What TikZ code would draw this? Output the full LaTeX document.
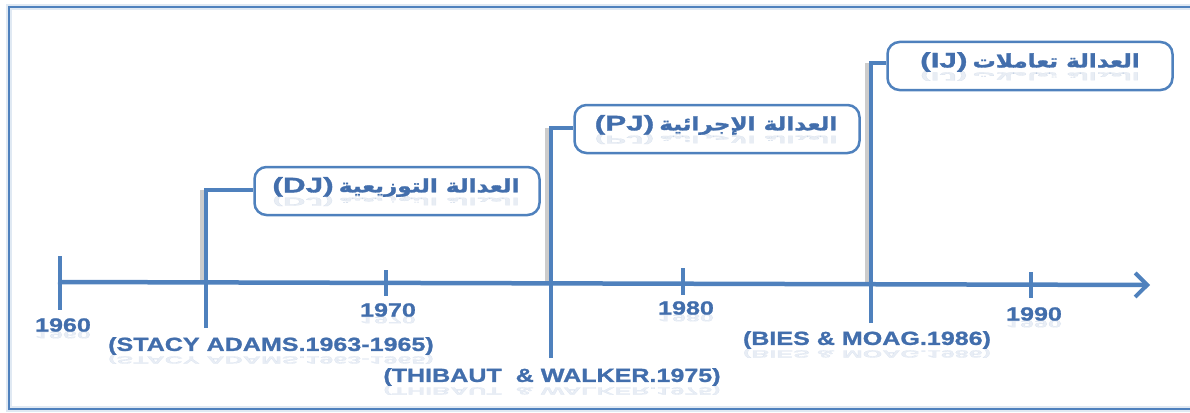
\documentclass[tikz,border=0pt]{standalone}
\usepackage{fontspec}
\setmainfont{Liberation Sans}
\newfontfamily\labelfont[FakeStretch=1.32, BoldFeatures={FakeBold=1.2}]{Liberation Sans}
\newfontfamily\tagfont[FakeStretch=1.5, BoldFeatures={FakeBold=1.5}]{Liberation Sans}
\newfontfamily\arabicfont[Script=Arabic, FakeStretch=1.25, BoldFeatures={FakeBold=1.5}]{DejaVu Sans}
\TeXXeTstate=1
\usetikzlibrary{arrows.meta}
\definecolor{tlblue}{RGB}{79,129,189}
\definecolor{tltext}{RGB}{66,110,172}

\newcommand{\tagtext}[1]{{\tagfont\bfseries\fontsize{21}{23}\selectfont (#1)}}
\newcommand{\djtext}{\tagtext{DJ}~{\arabicfont\bfseries\beginR العدالة التوزيعية\endR}}
\newcommand{\pjtext}{\tagtext{PJ}~{\arabicfont\bfseries\beginR العدالة الإجرائية\endR}}
\newcommand{\ijtext}{\tagtext{IJ}~{\arabicfont\bfseries\beginR العدالة تعاملات\endR}}

\tikzset{
  frameline/.style={draw=tlblue, line width=2.5pt},
  frameglow/.style={draw=tlblue!50, line width=6pt, opacity=0.35},
  axisline/.style={draw=tlblue, line width=4.5pt},
  tickline/.style={draw=tlblue, line width=4.5pt},
  linkline/.style={draw=tlblue, line width=3.5pt},
  linkshadow/.style={draw=gray, line width=4pt, opacity=0.4},
  eventbox/.style={draw=tlblue, line width=2.5pt, rounded corners=12pt, fill=white,
    minimum width=285pt, minimum height=48pt, inner sep=0pt},
  boxtext/.style={text=tltext, inner sep=0pt,
    font=\fontsize{18.5}{22}\selectfont},
  yearlabel/.style={text=tltext, inner sep=0pt,
    font=\labelfont\bfseries\fontsize{19}{21}\selectfont},
  mirror/.style={opacity=0.12, yscale=-0.55, transform shape, anchor=south},
}

\begin{document}
\begin{tikzpicture}[x=1pt, y=-1pt]
\useasboundingbox (0,0) rectangle (1190,412);

% surrounding frame (open on the right)
\draw[frameglow] (1195,7) -- (9,7) -- (9,409) -- (1195,409);
\draw[frameline] (1195,7) -- (9,7) -- (9,409) -- (1195,409);

% event boxes
\node[eventbox] (dj) at (397,191) {};
\node[eventbox] (pj) at (717,129) {};
\node[eventbox] (ij) at (1030,66) {};

% box captions with their soft reflections
\node[boxtext] (djt) at (396,187) {\djtext};
\node[boxtext] (pjt) at (716,125) {\pjtext};
\node[boxtext] (ijt) at (1030,62) {\ijtext};
\node[boxtext, mirror] at ([yshift=2pt]djt.south) {\djtext};
\node[boxtext, mirror] at ([yshift=2pt]pjt.south) {\pjtext};
\node[boxtext, mirror] at ([yshift=2pt]ijt.south) {\ijtext};

% time axis
\coordinate (axStart) at (58,282);
\coordinate (axEnd) at (1150,285);

% event markers on the axis
\coordinate (sBot) at (206,328);
\coordinate (sTop) at (206,190);
\coordinate (tBot) at (551,358);
\coordinate (tTop) at (551,128);
\coordinate (bBot) at (871,323);
\coordinate (bTop) at (871,63);

% soft shadows beside the event lines
\draw[linkshadow] ([xshift=-4pt]sTop) -- ([xshift=-4pt]sTop |- axStart);
\draw[linkshadow] ([xshift=-4pt]tTop) -- ([xshift=-4pt]tTop |- axStart);
\draw[linkshadow] ([xshift=-4pt]bTop) -- ([xshift=-4pt]bTop |- axStart);

\draw[axisline, -{Straight Barb[length=12pt, width=24pt, line width=4pt]}] (axStart) -- (axEnd);

% decade ticks
\coordinate (t60a) at (60,256);  \coordinate (t60b) at (60,310);
\coordinate (t70a) at (386,270); \coordinate (t70b) at (386,296);
\coordinate (t80a) at (683,268); \coordinate (t80b) at (683,295);
\coordinate (t90a) at (1031,272);\coordinate (t90b) at (1031,298);
\draw[tickline] (t60a) -- (t60b);
\draw[tickline] (t70a) -- (t70b);
\draw[tickline] (t80a) -- (t80b);
\draw[tickline] (t90a) -- (t90b);

% event lines into the boxes
\draw[linkline] (sBot) -- (sTop) -- (dj.west |- sTop);
\draw[linkline] (tBot) -- (tTop) -- (pj.west |- tTop);
\draw[linkline] (bBot) -- (bTop) -- (ij.west |- bTop);

% decade labels
\node[yearlabel] (y60) at (63,325) {1960};
\node[yearlabel] (y70) at (388,310) {1970};
\node[yearlabel] (y80) at (686,308) {1980};
\node[yearlabel] (y90) at (1034,314) {1990};

% authors
\node[yearlabel] (ls) at (271,346) {(STACY ADAMS.1963-1965)};
\node[yearlabel] (lt) at (552,377) {(THIBAUT~~\&~WALKER.1975)};
\node[yearlabel] (lb) at (867,340) {(BIES~\&~MOAG.1986)};

% reflections under the labels
\foreach \n/\t in {y60/1960, y70/1970, y80/1980, y90/1990,
  ls/{(STACY ADAMS.1963-1965)}, lt/{(THIBAUT~~\&~WALKER.1975)}, lb/{(BIES~\&~MOAG.1986)}}
  \node[yearlabel, mirror] at ([yshift=1pt]\n.south) {\t};
\end{tikzpicture}
\end{document}
